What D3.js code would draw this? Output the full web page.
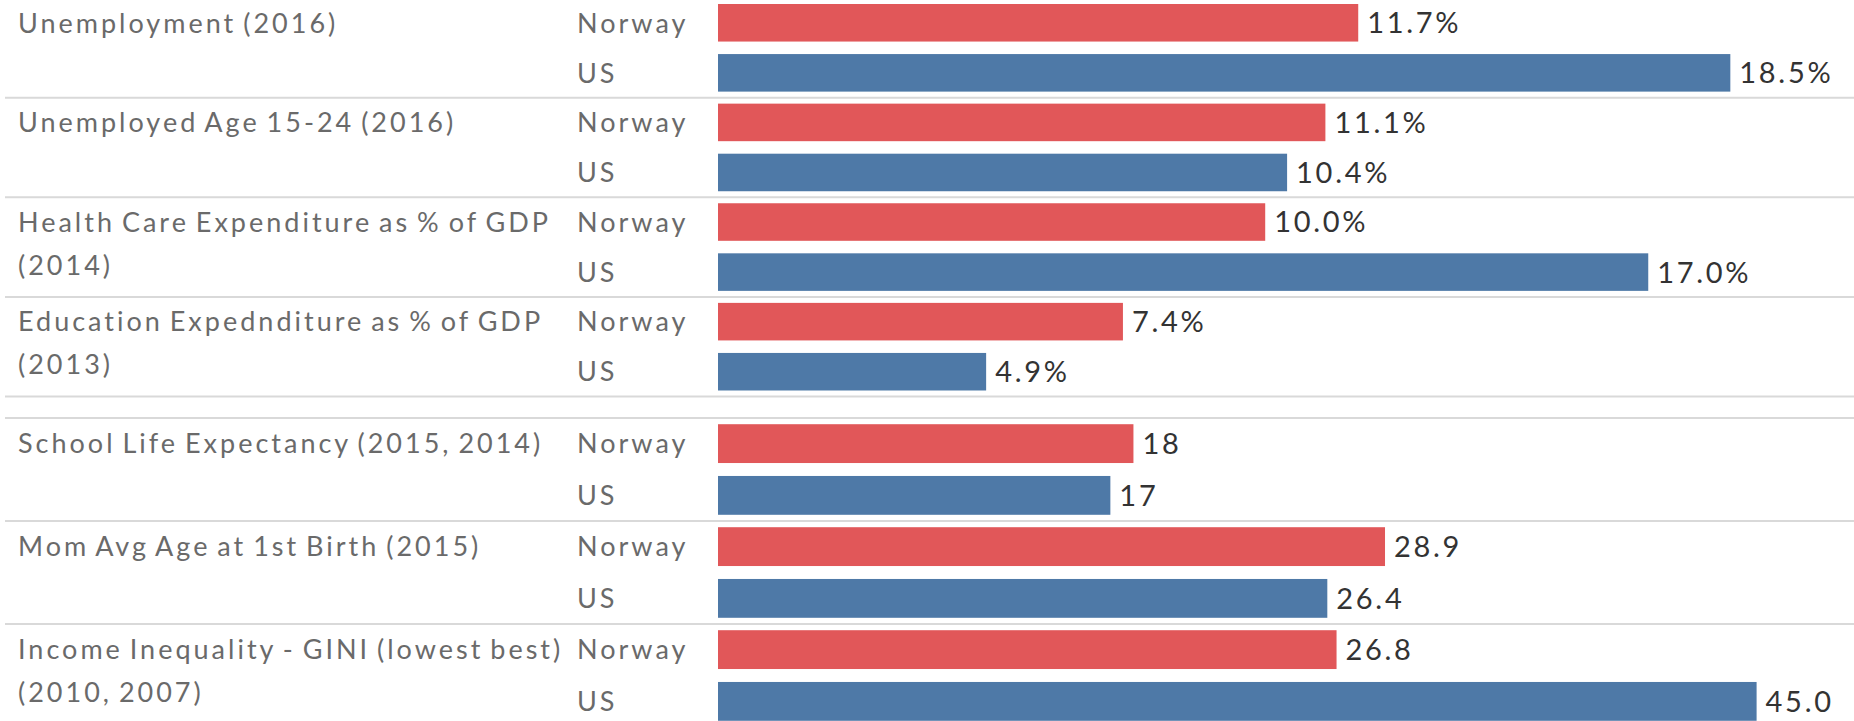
<!DOCTYPE html>
<html>
<head>
<meta charset="utf-8">
<script src="https://cdn.jsdelivr.net/npm/d3@7"></script>
<style>
  body { margin: 0; background: #fff; }
  text { font-family: Lato, "Open Sans", sans-serif; }
</style>
</head>
<body>
<svg id="chart" width="1854" height="721"></svg>
<script>
// measures, split over two sheets (percent sheet, number sheet)
var measures = [
  "Unemployment (2016)",
  "Unemployed Age 15-24 (2016)",
  "Health Care Expenditure as % of GDP (2014)",
  "Education Expednditure as % of GDP (2013)",
  "School Life Expectancy (2015, 2014)",
  "Mom Avg Age at 1st Birth (2015)",
  "Income Inequality - GINI (lowest best) (2010, 2007)"
];
// how the label wraps in the row header
var measureLines = [
  ["Unemployment (2016)"],
  ["Unemployed Age 15-24 (2016)"],
  ["Health Care Expenditure as % of GDP", "(2014)"],
  ["Education Expednditure as % of GDP", "(2013)"],
  ["School Life Expectancy (2015, 2014)"],
  ["Mom Avg Age at 1st Birth (2015)"],
  ["Income Inequality - GINI (lowest best)", "(2010, 2007)"]
];
var countries = ["Norway", "US"];
var norwayValues = [11.7, 11.1, 10.0, 7.4, 18, 28.9, 26.8];
var usValues = [18.5, 10.4, 17.0, 4.9, 17, 26.4, 45.0];
var valueFormats = ["pct", "pct", "pct", "pct", "int", "dec", "dec"];
var sheetOf = [0, 0, 0, 0, 1, 1, 1];

var colors = { "Norway": "#e15759", "US": "#4e79a7" };

var svg = d3.select("#chart");

// each sheet has its own vertical extent and its own x axis
var sheets = [
  { top: -2, bottom: 396.5, xMax: 20.76 },
  { top: 418, bottom: 727, xMax: 49.22 }
];

var barLeft = 718;
var fmt = {
  pct: function(v) { return d3.format(".1f")(v) + "%"; },
  int: d3.format(".0f"),
  dec: d3.format(".1f")
};

var data = measures.map(function(m, i) {
  return {
    measure: m,
    lines: measureLines[i],
    sheet: sheetOf[i],
    format: valueFormats[i],
    values: [
      { country: "Norway", value: norwayValues[i] },
      { country: "US", value: usValues[i] }
    ]
  };
});

sheets.forEach(function(sh, s) {
  var rows = data.filter(function(d) { return d.sheet === s; });

  var y = d3.scaleBand()
    .domain(rows.map(function(d) { return d.measure; }))
    .range([sh.top, sh.bottom]);

  var yInner = d3.scaleBand()
    .domain(countries)
    .range([0, y.bandwidth()])
    .paddingInner(0.25)
    .paddingOuter(0.12);

  var x = d3.scaleLinear()
    .domain([0, sh.xMax])
    .range([barLeft, 1854]);

  var g = svg.append("g").attr("class", "sheet");

  // separators between panels
  var edges = y.domain().map(function(m) { return y(m); });
  edges.push(sh.bottom);
  g.selectAll("line.sep")
    .data(edges)
    .enter().append("line")
    .attr("class", "sep")
    .attr("x1", 5).attr("x2", 1854)
    .attr("y1", function(d) { return d; })
    .attr("y2", function(d) { return d; })
    .style("stroke", "#d9d9d9")
    .style("stroke-width", 2);

  var panel = g.selectAll("g.panel")
    .data(rows)
    .enter().append("g")
    .attr("class", "panel")
    .attr("transform", function(d) { return "translate(0," + y(d.measure) + ")"; });

  // row header (measure name)
  panel.append("text")
    .attr("x", 18)
    .style("font-size", "27px")
    .style("letter-spacing", "3px")
    .style("word-spacing", "-3px")
    .style("fill", "#6a6a6a")
    .selectAll("tspan")
    .data(function(d) { return d.lines; })
    .enter().append("tspan")
    .attr("x", 18)
    .attr("y", function(d, i) { return yInner("Norway") + yInner.bandwidth() / 2 + i * 43; })
    .attr("dy", "0.36em")
    .text(function(d) { return d; });

  var row = panel.selectAll("g.row")
    .data(function(d) {
      return d.values.map(function(v) { return { country: v.country, value: v.value, format: d.format }; });
    })
    .enter().append("g")
    .attr("class", "row");

  // country header
  row.append("text")
    .attr("x", 577)
    .attr("y", function(d) { return yInner(d.country) + yInner.bandwidth() / 2; })
    .attr("dy", "0.36em")
    .style("font-size", "27px")
    .style("letter-spacing", "3px")
    .style("fill", "#6a6a6a")
    .text(function(d) { return d.country; });

  row.append("rect")
    .attr("x", x(0))
    .attr("y", function(d) { return yInner(d.country); })
    .attr("width", function(d) { return x(d.value) - x(0); })
    .attr("height", yInner.bandwidth())
    .style("fill", function(d) { return colors[d.country]; });

  row.append("text")
    .attr("x", function(d) { return x(d.value) + 9; })
    .attr("y", function(d) { return yInner(d.country) + yInner.bandwidth() / 2; })
    .attr("dy", "0.36em")
    .style("font-size", "29px")
    .style("letter-spacing", "2.7px")
    .style("fill", "#333")
    .text(function(d) { return fmt[d.format](d.value); });
});
</script>
</body>
</html>
